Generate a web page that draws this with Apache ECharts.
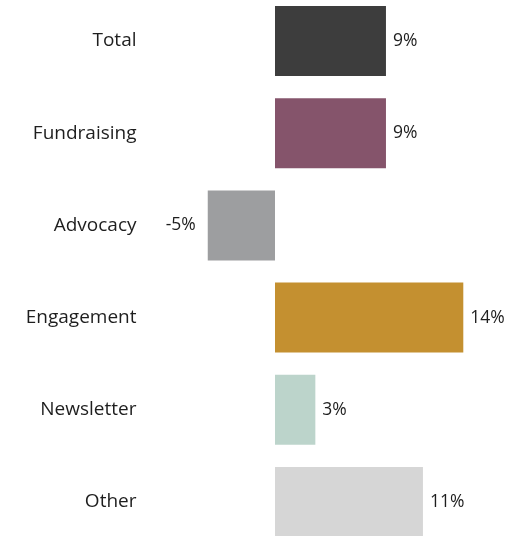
<!DOCTYPE html>
<html><head><meta charset="utf-8">
<script src="https://cdn.jsdelivr.net/npm/echarts@6/dist/echarts.min.js"></script>
<style>html,body{margin:0;padding:0;background:#fff;overflow:hidden;width:520px;height:536px}#c{position:absolute;left:0;top:-5px;width:520px;height:553px}</style>
</head><body><div id="c"></div>
<script>
const categories = ["Total", "Fundraising", "Advocacy", "Engagement", "Newsletter", "Other"];
const values = [8.25, 8.25, -5, 14, 3, 11];
const valueLabels = ["9%", "9%", "-5%", "14%", "3%", "11%"];
const colors = ["#3d3d3d", "#85546b", "#9d9ea0", "#c49030", "#bcd4cb", "#d6d6d6"];

const FONT = "Open Sans";
const chart = echarts.init(document.getElementById('c'), null, {renderer: 'canvas'});
chart.setOption({
  animation: false,
  grid: {left: 140.5, width: 336.25, top: 0, height: 553, containLabel: false},
  xAxis: {type: 'value', min: -10, max: 15, show: false},
  yAxis: {
    type: 'category', data: categories, inverse: true,
    axisLine: {show: false}, axisTick: {show: false}, splitLine: {show: false},
    axisLabel: {fontFamily: FONT, fontSize: 19, color: '#1e1e1e', margin: 4}
  },
  series: [{
    type: 'bar',
    barCategoryGap: '24%',
    data: values.map((v, i) => ({
      value: v,
      itemStyle: {color: colors[i]},
      label: {
        show: true,
        position: v < 0 ? 'left' : 'right',
        distance: v < 0 ? 12 : 7,
        formatter: () => valueLabels[i],
        fontFamily: FONT, fontSize: 17.5, color: '#1e1e1e'
      }
    }))
  }]
});
</script></body></html>
